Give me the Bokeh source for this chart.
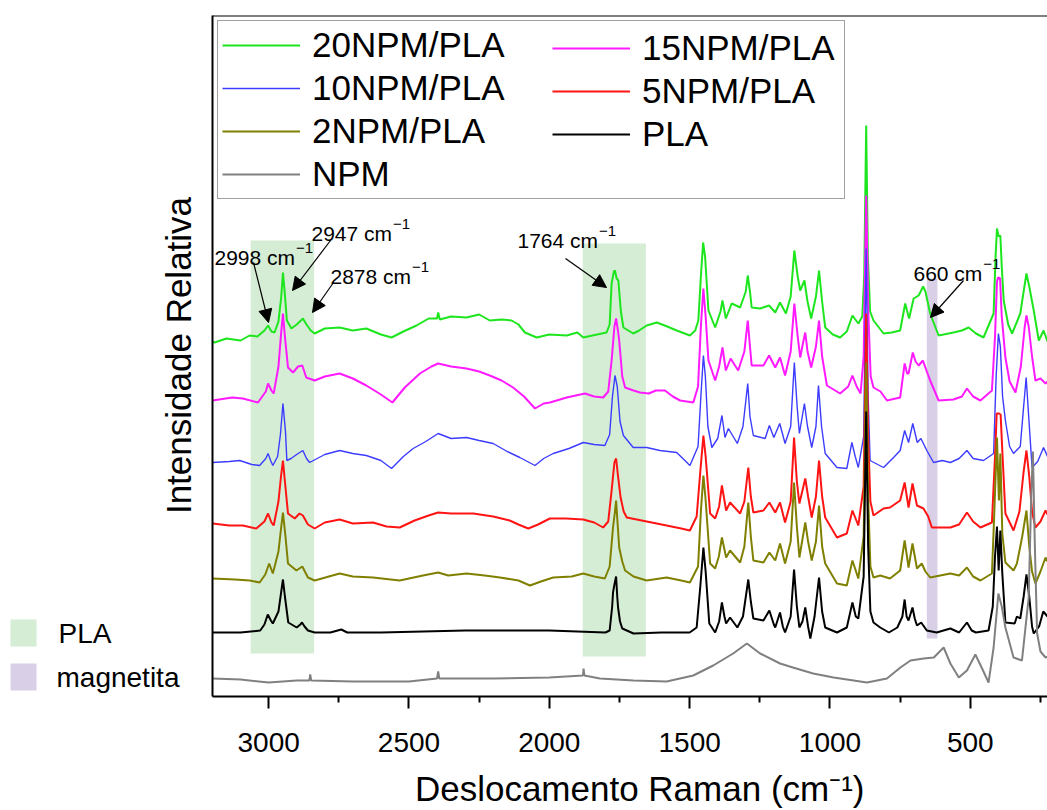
import math
from bokeh.plotting import figure
from bokeh.layouts import row
from bokeh.models import (Range1d, Legend, LegendItem, Label, Arrow, NormalHead,
                          Span, FixedTicker)
from bokeh.embed import file_html
from bokeh.resources import INLINE

# ---------------- data ----------------
wn20 = [3200, 3193, 3150, 3100, 3068, 3040, 3015, 3002, 2990, 2979, 2965, 2955, 2949, 2943, 2935, 2919,
        2900, 2885, 2878, 2865, 2850, 2836, 2800, 2747, 2700, 2652, 2600, 2562, 2520, 2473, 2430, 2400,
        2396, 2390, 2350, 2295, 2250, 2212, 2170, 2134, 2110, 2087, 2045, 2000, 1938, 1900, 1879, 1830,
        1796, 1785, 1778, 1770, 1766, 1760, 1754, 1745, 1736, 1701, 1680, 1653, 1617, 1580, 1546, 1499,
        1480, 1469, 1460, 1452, 1445, 1433, 1409, 1390, 1383, 1371, 1350, 1320, 1300, 1293, 1285, 1279,
        1249, 1217, 1195, 1178, 1157, 1140, 1127, 1115, 1106, 1091, 1080, 1067, 1050, 1039, 1028, 1017,
        990, 964, 940, 920, 899, 885, 878, 871, 865, 857, 845, 809, 780, 750, 732, 718, 702, 684, 668,
        660, 643, 613, 560, 530, 506, 480, 453, 417, 410, 405, 399, 393, 388, 381, 365, 351, 322, 310,
        300, 290, 274, 256, 239, 225]
in20 = [355, 354, 358, 356, 361, 360, 366, 371, 365, 364, 375, 400, 424, 405, 376, 368,
        372, 376, 378, 372, 366, 363, 368, 369, 366, 368, 362, 359, 365, 371, 378, 378,
        384, 377, 380, 379, 382, 376, 377, 376, 372, 364, 359, 362, 361, 364, 359, 362,
        364, 372, 413, 425, 426, 418, 416, 385, 369, 363, 366, 371, 374, 370, 366, 361,
        366, 376, 420, 454, 440, 386, 369, 385, 396, 378, 393, 389, 405, 421, 405, 389,
        388, 391, 384, 394, 383, 400, 446, 420, 406, 416, 395, 378, 400, 426, 395, 369,
        362, 359, 365, 381, 373, 380, 420, 571, 440, 385, 376, 363, 364, 366, 393, 378, 398, 401, 410,
        405, 383, 361, 364, 366, 369, 363, 359, 383, 440, 468, 460, 461, 430, 396, 372, 363, 383, 405,
        423, 410, 386, 356, 366, 355]

wn15 = [3200, 3130, 3092, 3038, 3010, 3002, 2990, 2982, 2965, 2955, 2949, 2942, 2931, 2913, 2895, 2880,
        2866, 2836, 2800, 2747, 2700, 2652, 2600, 2559, 2515, 2461, 2420, 2396, 2350, 2295, 2250, 2212,
        2170, 2129, 2090, 2051, 2020, 1998, 1938, 1873, 1840, 1808, 1790, 1778, 1768, 1762, 1755, 1751,
        1740, 1730, 1700, 1677, 1646, 1620, 1588, 1560, 1534, 1487, 1470, 1460, 1451, 1443, 1433, 1409,
        1395, 1383, 1371, 1354, 1327, 1305, 1293, 1285, 1279, 1237, 1217, 1195, 1178, 1160, 1140, 1127,
        1115, 1106, 1095, 1088, 1080, 1067, 1050, 1039, 1028, 1011, 964, 935, 920, 905, 891, 880, 871,
        863, 855, 845, 820, 797, 750, 734, 725, 720, 705, 695, 684, 669, 655, 643, 613, 560, 530, 512,
        490, 464, 423, 412, 405, 401, 394, 388, 375, 360, 339, 320, 306, 300, 292, 280, 268, 250, 232, 225]
in15 = [296, 299, 298, 294, 305, 313, 306, 303, 330, 365, 383, 360, 329, 324, 330, 331,
        319, 316, 320, 323, 318, 311, 302, 294, 309, 323, 330, 333, 330, 328, 325, 321,
        316, 309, 300, 288, 293, 294, 299, 303, 300, 299, 305, 336, 370, 378, 365, 356,
        320, 309, 306, 304, 303, 306, 306, 300, 296, 294, 310, 370, 408, 380, 336, 316,
        330, 349, 326, 338, 326, 345, 376, 350, 331, 331, 341, 329, 339, 321, 345, 393,
        360, 339, 355, 364, 345, 329, 350, 376, 340, 311, 303, 310, 321, 310, 303, 340, 501,
        380, 320, 309, 305, 296, 299, 333, 323, 323, 344, 335, 331, 336, 325, 316, 296, 297, 300, 308,
        300, 296, 306, 360, 415, 419, 418, 380, 339, 315, 304, 330, 370, 381, 370, 340, 316, 318, 313, 315]

wn10 = [3200, 3140, 3103, 3060, 3032, 3010, 3002, 2993, 2985, 2968, 2958, 2949, 2940, 2935, 2920, 2900,
        2878, 2865, 2854, 2800, 2747, 2700, 2652, 2600, 2562, 2520, 2485, 2440, 2396, 2350, 2295, 2250,
        2200, 2150, 2105, 2051, 2020, 1986, 1930, 1879, 1840, 1802, 1785, 1775, 1766, 1758, 1748, 1736,
        1701, 1653, 1606, 1546, 1499, 1470, 1460, 1451, 1444, 1435, 1421, 1400, 1385, 1374, 1362, 1330,
        1310, 1293, 1285, 1273, 1231, 1216, 1200, 1179, 1160, 1140, 1127, 1117, 1109, 1091, 1080, 1065,
        1050, 1041, 1030, 1017, 975, 940, 922, 910, 899, 880, 871, 864, 857, 830, 809, 770, 750, 734,
        720, 705, 689, 676, 655, 631, 600, 571, 540, 512, 490, 453, 417, 408, 400, 393, 385, 375, 360,
        346, 322, 310, 301, 292, 280, 260, 239, 225]
in10 = [234, 235, 236, 232, 231, 238, 243, 236, 231, 240, 262, 293, 265, 236, 238, 242,
        246, 238, 234, 242, 246, 243, 241, 236, 228, 240, 248, 255, 263, 258, 259, 256,
        253, 245, 239, 231, 238, 243, 248, 254, 252, 251, 262, 300, 321, 310, 275, 261,
        249, 249, 246, 244, 231, 250, 300, 341, 320, 270, 249, 258, 281, 259, 268, 253,
        270, 313, 280, 261, 258, 271, 259, 273, 253, 270, 334, 290, 263, 293, 270, 249,
        270, 311, 270, 243, 229, 228, 254, 240, 229, 260, 448, 300, 236, 232, 229, 240, 246, 266,
        254, 273, 254, 258, 246, 234, 236, 234, 238, 246, 238, 236, 243, 320, 363, 350, 300, 276, 250,
        243, 250, 290, 319, 280, 229, 235, 249, 240]

wn5 = [3200, 3140, 3092, 3044, 3015, 3002, 2990, 2982, 2965, 2956, 2949, 2942, 2931, 2907, 2890, 2878,
       2860, 2836, 2800, 2747, 2700, 2628, 2580, 2533, 2480, 2430, 2396, 2350, 2271, 2200, 2141, 2110,
       2075, 2040, 1998, 1940, 1879, 1840, 1808, 1790, 1778, 1768, 1762, 1755, 1746, 1735, 1724, 1653,
       1582, 1530, 1499, 1475, 1462, 1451, 1443, 1427, 1409, 1395, 1385, 1370, 1356, 1320, 1305, 1291,
       1282, 1273, 1237, 1216, 1195, 1178, 1160, 1140, 1128, 1118, 1109, 1088, 1078, 1065, 1050, 1039,
       1028, 1017, 975, 940, 920, 899, 880, 871, 864, 856, 845, 809, 786, 750, 734, 720, 706, 690, 667,
       650, 637, 571, 540, 512, 490, 464, 423, 412, 406, 398, 392, 385, 375, 346, 325, 310, 300, 290,
       280, 268, 250, 232, 225]
in5 = [173, 171, 171, 168, 175, 183, 174, 171, 195, 220, 236, 215, 183, 178, 183, 181,
       172, 168, 174, 177, 173, 174, 170, 169, 176, 181, 184, 183, 183, 180, 176, 172,
       168, 172, 178, 178, 177, 174, 169, 175, 206, 234, 238, 220, 199, 185, 179, 175,
       171, 168, 166, 180, 225, 261, 240, 183, 178, 190, 211, 186, 194, 183, 195, 229,
       200, 184, 186, 194, 184, 194, 174, 195, 259, 215, 193, 218, 200, 179, 200, 236,
       200, 179, 159, 163, 186, 171, 210, 383, 260, 195, 181, 188, 189, 196, 214, 189, 213, 191, 188,
       180, 169, 169, 172, 184, 175, 169, 174, 240, 283, 283, 282, 240, 183, 166, 185, 225, 246, 220,
       185, 169, 175, 186, 182]

wn2 = [3200, 3120, 3068, 3032, 3012, 2998, 2985, 2965, 2955, 2949, 2940, 2931, 2901, 2880, 2860, 2836,
       2747, 2700, 2628, 2533, 2450, 2396, 2360, 2295, 2230, 2176, 2110, 2069, 2030, 1986, 1920, 1879,
       1840, 1802, 1785, 1773, 1766, 1762, 1756, 1751, 1740, 1730, 1700, 1653, 1582, 1530, 1499, 1470,
       1460, 1451, 1444, 1427, 1409, 1396, 1385, 1370, 1356, 1320, 1305, 1291, 1282, 1273, 1237, 1216,
       1195, 1178, 1160, 1140, 1128, 1118, 1109, 1088, 1078, 1065, 1050, 1039, 1028, 1017, 975, 940,
       920, 899, 880, 871, 864, 856, 845, 821, 786, 750, 734, 720, 706, 690, 673, 660, 643, 571, 540,
       512, 490, 464, 423, 415, 405, 398, 393, 386, 375, 346, 334, 315, 300, 290, 280, 268, 250, 232, 225]
in2 = [118, 117, 116, 114, 122, 133, 123, 145, 170, 184, 160, 133, 126, 130, 119, 116,
       123, 120, 119, 116, 121, 124, 121, 123, 121, 119, 116, 111, 115, 119, 120, 123,
       120, 118, 130, 169, 185, 196, 170, 149, 135, 126, 120, 116, 119, 116, 114, 130,
       185, 221, 200, 133, 128, 140, 159, 139, 146, 134, 150, 194, 160, 136, 134, 144,
       136, 153, 133, 155, 214, 170, 139, 174, 155, 136, 155, 191, 150, 133, 113, 111,
       136, 118, 160, 334, 200, 130, 119, 121, 118, 126, 156, 129, 153, 128, 133, 125, 119, 123, 121,
       129, 120, 116, 123, 180, 259, 196, 243, 163, 134, 126, 133, 160, 186, 150, 125, 113, 125, 139, 135]

wn_pla = [3200, 3100, 3030, 3015, 3003, 2992, 2985, 2965, 2955, 2949, 2942, 2930, 2900, 2887, 2881, 2872,
          2860, 2836, 2780, 2741, 2720, 2600, 2300, 2000, 1800, 1785, 1776, 1773, 1768, 1762, 1758, 1755,
          1748, 1740, 1700, 1600, 1500, 1475, 1462, 1451, 1443, 1430, 1409, 1395, 1385, 1376, 1370, 1356,
          1330, 1310, 1291, 1282, 1273, 1237, 1216, 1200, 1195, 1178, 1168, 1160, 1140, 1128, 1118, 1109,
          1098, 1088, 1078, 1070, 1055, 1039, 1028, 1017, 975, 940, 920, 908, 899, 880, 871, 864, 856,
          845, 821, 790, 760, 742, 734, 727, 720, 706, 698, 690, 675, 655, 620, 571, 540, 512, 495, 480,
          435, 420, 412, 405, 399, 393, 386, 375, 342, 334, 322, 310, 300, 290, 280, 274, 255, 240, 225]
in_pla = [64, 64, 66, 72, 82, 76, 73, 85, 105, 117, 100, 74, 69, 72, 74, 70,
          66, 64, 64, 67, 64, 64, 66, 66, 64, 66, 90, 104, 112, 120, 100, 89,
          75, 68, 63, 64, 64, 69, 110, 149, 125, 73, 64, 75, 94, 80, 73, 79,
          69, 80, 117, 95, 78, 76, 86, 72, 69, 84, 70, 64, 80, 127, 90, 69,
          75, 89, 70, 58, 80, 119, 85, 69, 64, 69, 94, 80, 78, 120, 285, 150, 85,
          74, 69, 64, 69, 80, 97, 80, 76, 89, 78, 71, 74, 66, 64, 68, 64, 74, 66, 64,
          66, 90, 140, 170, 126, 166, 123, 74, 73, 80, 78, 100, 122, 100, 70, 63, 70, 85, 80]

wn_npm = [3200, 3100, 3000, 2900, 2855, 2852, 2848, 2700, 2500, 2400, 2396, 2392, 2200, 2000, 1880, 1878,
          1875, 1820, 1700, 1582, 1487, 1416, 1345, 1296, 1249, 1178, 1132, 1060, 987, 868, 797, 749,
          713, 666, 630, 595, 571, 541, 512, 482, 458, 435, 417, 400, 388, 375, 346, 316, 292, 283,
          277, 270, 262, 250, 232, 225]
in_npm = [18, 17, 14, 16, 16, 22, 16, 15, 15, 18, 25, 18, 18, 19, 21, 28,
          21, 18, 16, 15, 21, 31, 43, 53, 43, 33, 29, 23, 19, 14, 18, 29,
          36, 38, 39, 49, 33, 19, 26, 42, 28, 14, 49, 103, 90, 69, 39, 36, 99, 200,
          245, 150, 63, 45, 39, 40]

series_names = ["20NPM/PLA", "15NPM/PLA", "10NPM/PLA", "5NPM/PLA", "2NPM/PLA", "PLA", "NPM"]
series_wn = [wn20, wn15, wn10, wn5, wn2, wn_pla, wn_npm]
series_int = [in20, in15, in10, in5, in2, in_pla, in_npm]

# shaded bands (wavenumber limits, intensity limits)
pla_left = [3064, 1881]
pla_right = [2838, 1656]
pla_bottom = [43, 40]
pla_top = [456, 453]
mag_left = [655]
mag_right = [617]
mag_bottom = [58]
mag_top = [418]
band_names = ["PLA", "magnetita"]

# peak annotations
ann_text = ["2998 cm", "2947 cm", "2878 cm", "1764 cm", "660 cm"]

# ---------------- styles ----------------
colors = ["#1ee61e", "#ff1aff", "#3c3cff", "#ff1414", "#808000", "#000000", "#808080"]
widths = [2, 2, 1.4, 2, 2, 2, 2]
PLA_FILL, MAG_FILL = "#d5ecd5", "#d9d0e7"
FONT = "Liberation Sans"

SIDE_W = 200           # left strip (band legend + y title)
X0, X1 = 3200, 225
Y0, Y1 = 0, 681
FL, FR, FT, FB = 212, 1047, 15, 696   # frame in page pixels


def dx(sx):
    return X0 + (sx - FL) * (X1 - X0) / (FR - FL)


def dy(sy):
    return Y0 + (FB - sy) * (Y1 - Y0) / (FB - FT)


# ---------------- main plot ----------------
p = figure(width=1047 - SIDE_W, height=810, output_backend="svg", toolbar_location=None,
           x_range=Range1d(X0, X1), y_range=Range1d(Y0, Y1),
           min_border_left=FL - SIDE_W, min_border_right=0, min_border_top=FT,
           min_border_bottom=810 - FB)
p.outline_line_color = None
p.xgrid.visible = False
p.ygrid.visible = False
p.background_fill_color = "white"
p.border_fill_color = "white"

pla_r = p.quad(left=pla_left, right=pla_right, bottom=pla_bottom, top=pla_top,
               fill_color=PLA_FILL, line_color=None)
mag_r = p.quad(left=mag_left, right=mag_right, bottom=mag_bottom, top=mag_top,
               fill_color=MAG_FILL, line_color=None)

renderers = []
for wn, it, c, w in zip(series_wn, series_int, colors, widths):
    renderers.append(p.line(wn, it, line_color=c, line_width=w))

xa = p.xaxis[0]
xa.ticker = FixedTicker(ticks=[3000, 2500, 2000, 1500, 1000, 500],
                        minor_ticks=[2750, 2250, 1750, 1250, 750, 250])
xa.axis_line_width = 2
xa.major_tick_line_width = 2
xa.minor_tick_line_width = 2
xa.major_tick_out = 12
xa.major_tick_in = 0
xa.minor_tick_out = 6
xa.minor_tick_in = 0
xa.major_label_text_font = FONT
xa.major_label_text_font_size = "28px"
xa.major_label_text_color = "black"
xa.major_label_standoff = 24
xa.axis_label = "\u00a0\u00a0Deslocamento Raman (cm\u207b\u00b9)"
xa.axis_label_text_font = FONT
xa.axis_label_text_font_size = "35px"
xa.axis_label_text_font_style = "normal"
xa.axis_label_text_color = "black"
xa.axis_label_standoff = 14

ya = p.yaxis[0]
ya.ticker = FixedTicker(ticks=[])
ya.axis_line_width = 2
ya.major_tick_out = 0
ya.major_tick_in = 0
ya.major_tick_line_color = None
ya.minor_tick_line_color = None
ya.major_label_standoff = 0

p.add_layout(Span(location=Y1, dimension="width", line_color="black", line_width=2))

# peak annotations: (left, baseline) in page px
ann_pos = [(214, 257), (311, 233), (330, 276), (517, 240), (913, 273)]
ann_arrows = [((253, 262), (268, 322)), ((330, 240), (292, 290)), ((333, 282), (312, 312)),
              ((565, 258), (606, 287)), ((963, 280), (930, 317))]
FS = 21
for t, (lx, by), ((ax0, ay0), (ax1, ay1)) in zip(ann_text, ann_pos, ann_arrows):
    p.add_layout(Label(x=dx(lx), y=dy(by), text=t, text_font=FONT, text_font_size=f"{FS}px",
                       text_color="black", text_baseline="alphabetic", text_align="left"))
    wtxt = 0
    for ch in t:
        wtxt += {"c": 0.5, "m": 0.833, " ": 0.278}.get(ch, 0.556)
    p.add_layout(Label(x=dx(lx + wtxt * FS + 1), y=dy(by - 10), text="\u22121", text_font=FONT,
                       text_font_size="15px", text_color="black",
                       text_baseline="alphabetic", text_align="left"))
    p.add_layout(Arrow(x_start=dx(ax0), y_start=dy(ay0), x_end=dx(ax1), y_end=dy(ay1),
                       line_width=1.2, line_color="black",
                       end=NormalHead(size=13, fill_color="black", line_color="black")))

# series legend: left column carries the box, right column floats over it
leg_style = dict(label_text_font=FONT, label_text_font_size="35px", label_text_color="black",
                 glyph_width=78, glyph_height=40, label_height=40, spacing=3, padding=4,
                 label_standoff=12)
left_idx = [0, 2, 4, 6]
right_idx = [1, 3, 5]
legA = Legend(items=[LegendItem(label=series_names[i], renderers=[renderers[i]]) for i in left_idx],
              location="top_left", margin=5, label_width=528,
              border_line_color="#444444", border_line_width=1, background_fill_alpha=1,
              **leg_style)
p.add_layout(legA)
legB = Legend(items=[LegendItem(label=series_names[i], renderers=[renderers[i]]) for i in right_idx],
              location=(552 - FL, FB - 154), margin=0,
              border_line_color=None, background_fill_alpha=0, **leg_style)
p.add_layout(legB)

# ---------------- left strip: y title and band key ----------------
# (its frame is aligned with the main frame: same top/bottom borders, same y scale)
side = figure(width=SIDE_W, height=810, output_backend="svg", toolbar_location=None,
              x_range=Range1d(0, SIDE_W), y_range=Range1d(Y0, Y1),
              min_border_left=0, min_border_right=0, min_border_top=FT,
              min_border_bottom=810 - FB, x_axis_location=None, y_axis_location=None)
side.outline_line_color = None
side.xgrid.visible = False
side.ygrid.visible = False
side.background_fill_color = "white"
side.border_fill_color = "white"
# key swatches (px boxes in the strip) and their texts
key_rows = [(619, 646), (663, 690)]
key_fills = [PLA_FILL, MAG_FILL]
side.quad(left=[10, 10], right=[36, 36],
          top=[dy(a) for a, b in key_rows], bottom=[dy(b) for a, b in key_rows],
          fill_color=key_fills, line_color=None)
for name, (a, b), lx in zip(band_names, key_rows, [58, 56]):
    side.add_layout(Label(x=lx, y=dy((a + b) / 2), text=name, text_font=FONT,
                          text_font_size="28px", text_color="black",
                          text_align="left", text_baseline="middle"))
side.add_layout(Label(x=178, y=dy(355), text="Intensidade Relativa", angle=math.pi / 2,
                      text_font=FONT, text_font_size="35px", text_color="black",
                      text_align="center", text_baseline="middle"))

layout = row(side, p, spacing=0)
open("out.html", "w").write(file_html(layout, INLINE))
